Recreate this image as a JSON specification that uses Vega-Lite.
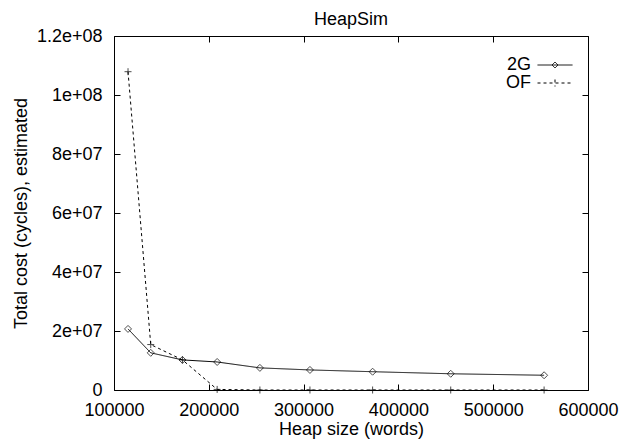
{
  "$schema": "https://vega.github.io/schema/vega-lite/v6.json",
  "width": 474,
  "height": 354,
  "autosize": "none",
  "padding": {"left": 114, "top": 36, "right": 45, "bottom": 54},
  "background": "white",
  "config": {
    "font": "Liberation Sans",
    "view": {"stroke": null},
    "axis": {
      "grid": false,
      "domainColor": "black",
      "domainWidth": 1,
      "tickColor": "black",
      "tickWidth": 1,
      "labelColor": "black",
      "titleColor": "black",
      "labelFontSize": 18,
      "titleFontSize": 18,
      "titleFontWeight": "normal",
      "labelFont": "Liberation Sans",
      "titleFont": "Liberation Sans",
      "labelFlush": false,
      "labelOverlap": false
    }
  },
  "title": {"text": "HeapSim", "fontSize": 18, "fontWeight": "normal", "font": "Liberation Sans", "color": "black", "offset": -2},
  "data": {
    "values": [
      {"heap": 114800, "cost": 20700000, "series": "2G"},
      {"heap": 138750, "cost": 12600000, "series": "2G"},
      {"heap": 172200, "cost": 10200000, "series": "2G"},
      {"heap": 208800, "cost": 9500000, "series": "2G"},
      {"heap": 253900, "cost": 7500000, "series": "2G"},
      {"heap": 306700, "cost": 6800000, "series": "2G"},
      {"heap": 372800, "cost": 6200000, "series": "2G"},
      {"heap": 455200, "cost": 5500000, "series": "2G"},
      {"heap": 553700, "cost": 5000000, "series": "2G"},
      {"heap": 114800, "cost": 107900000, "series": "OF"},
      {"heap": 138750, "cost": 15400000, "series": "OF"},
      {"heap": 172200, "cost": 10200000, "series": "OF"},
      {"heap": 208800, "cost": 200000, "series": "OF"},
      {"heap": 253900, "cost": 0, "series": "OF"},
      {"heap": 306700, "cost": 0, "series": "OF"},
      {"heap": 372800, "cost": 0, "series": "OF"},
      {"heap": 455200, "cost": 0, "series": "OF"},
      {"heap": 553700, "cost": 0, "series": "OF"}
    ]
  },
  "layer": [
    {
      "mark": {"type": "line", "color": "black", "strokeWidth": 1},
      "encoding": {
        "x": {
          "field": "heap", "type": "quantitative",
          "scale": {"domain": [100000, 600000], "nice": false, "zero": false},
          "axis": {"orient": "bottom", "values": [100000, 200000, 300000, 400000, 500000, 600000], "format": "d", "tickSize": -6, "labelPadding": 17, "title": "Heap size (words)", "titlePadding": 1}
        },
        "y": {
          "field": "cost", "type": "quantitative",
          "scale": {"domain": [0, 120000000], "nice": false},
          "axis": {"orient": "left", "values": [0, 20000000, 40000000, 60000000, 80000000, 100000000, 120000000], "labelExpr": "datum.value == 0 ? '0' : replace(format(datum.value, '~e'), 'e+', 'e+0')", "tickSize": -6, "labelPadding": 18, "title": "Total cost (cycles), estimated", "titlePadding": 6}
        },
        "strokeDash": {
          "field": "series", "type": "nominal",
          "scale": {"domain": ["2G", "OF"], "range": [[1, 0], [3, 3]]},
          "legend": {
            "orient": "none", "legendX": 432, "legendY": 20, "title": null, "padding": 0,
            "labelFontSize": 18, "labelColor": "black", "labelFont": "Liberation Sans",
            "labelAlign": "right", "labelOffset": -33,
            "symbolSize": 100, "symbolStrokeColor": "black", "symbolStrokeWidth": 1,
            "rowPadding": 0,
            "encode": {"symbols": {"update": {"shape": {"signal": "datum.value === '2G' ? 'M-3.5,0L3.5,0M0,-0.6L0.6,0L0,0.6L-0.6,0Z' : 'M0,-0.7L0,0.7M-3.5,0L3.5,0'"}}}}
          }
        }
      }
    },
    {
      "mark": {"type": "point", "color": "black", "filled": false, "strokeWidth": 1, "size": 49},
      "encoding": {
        "x": {"field": "heap", "type": "quantitative", "axis": {"orient": "top", "values": [100000, 200000, 300000, 400000, 500000, 600000], "labels": false, "title": null, "tickSize": -6}},
        "y": {"field": "cost", "type": "quantitative", "axis": {"orient": "right", "values": [0, 20000000, 40000000, 60000000, 80000000, 100000000, 120000000], "labels": false, "title": null, "tickSize": -6}},
        "shape": {"condition": {"test": "datum.series === 'OF'", "value": "M-1,0L1,0M0,-1L0,1"}, "value": "diamond"}
      }
    }
  ],
  "resolve": {"axis": {"x": "independent", "y": "independent"}}
}
